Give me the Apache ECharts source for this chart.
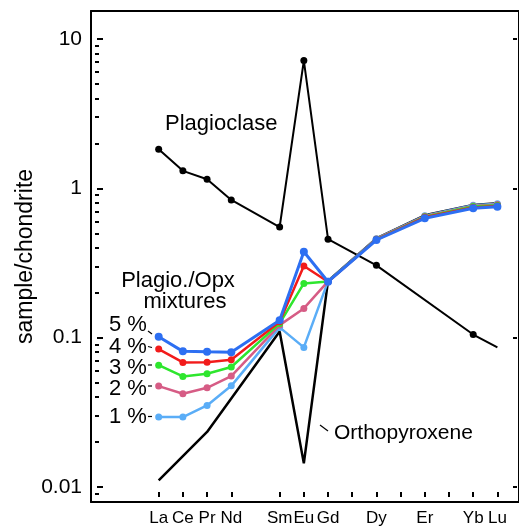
<!DOCTYPE html>
<html>
<head>
<meta charset="utf-8">
<script src="https://cdn.jsdelivr.net/npm/echarts@6/dist/echarts.min.js"></script>
<style>
html, body { margin: 0; padding: 0; background: #fff; }
#chart { width: 519px; height: 528px; }
</style>
</head>
<body>
<div id="chart"></div>
<script>
// REE order (Pm, Tb, Ho, Tm keep their slots but are not labelled)
var elements = ['La', 'Ce', 'Pr', 'Nd', 'Pm', 'Sm', 'Eu', 'Gd', 'Tb', 'Dy', 'Ho', 'Er', 'Tm', 'Yb', 'Lu'];
var labelIdx = [0, 1, 2, 3, 5, 6, 7, 9, 11, 13, 14];
var tickIdx = [0, 1, 2, 3, 5, 6, 7, 8, 9, 10, 11, 12, 13, 14];

// y ticks
var yMajor = [0.01, 0.1, 1, 10];
var yMinor = [0.009, 0.02, 0.03, 0.04, 0.05, 0.06, 0.07, 0.08, 0.09,
              0.2, 0.3, 0.4, 0.5, 0.6, 0.7, 0.8, 0.9,
              2, 3, 4, 5, 6, 7, 8, 9];

// sample/chondrite, null = not analysed
var plagioclase   = [1.83, 1.31, 1.15, 0.836, null, 0.551, 7.17, 0.457, null, 0.305, null, null, null, 0.105, 0.086];
var orthopyroxene = [0.0111, null, 0.0234, null, null, 0.11, 0.0144, 0.24, null, 0.462, null, 0.66, null, 0.775, 0.795];
var mix1 = [0.0294, 0.0294, 0.0352, 0.0476, null, 0.1172, 0.0861, 0.239, null, 0.460, null, 0.655, null, 0.770, 0.790];
var mix2 = [0.0474, 0.0421, 0.0462, 0.0553, null, 0.1214, 0.157, 0.238, null, 0.458, null, 0.650, null, 0.762, 0.780];
var mix3 = [0.0655, 0.0550, 0.0573, 0.0636, null, 0.1247, 0.231, 0.238, null, 0.456, null, 0.645, null, 0.755, 0.770];
var mix4 = [0.0839, 0.0683, 0.0686, 0.0711, null, 0.128, 0.302, 0.237, null, 0.454, null, 0.640, null, 0.745, 0.762];
var mix5 = [0.1014, 0.081, 0.0804, 0.080, null, 0.131, 0.376, 0.237, null, 0.451, null, 0.630, null, 0.735, 0.753];

var mixes = [mix1, mix2, mix3, mix4, mix5];
var mixNames = ['1 %', '2 %', '3 %', '4 %', '5 %'];
var mixColors = ['#5aadf7', '#d65c85', '#2ee62e', '#f21b1b', '#2d6ff2'];

var FONT = '"Liberation Sans", Arial, sans-serif';

function pairs(arr) {
    var out = [];
    for (var i = 0; i < arr.length; i++) {
        if (arr[i] != null) out.push([i, arr[i]]);
    }
    return out;
}

var plagData = pairs(plagioclase);
// last point (Lu) is drawn without a dot
plagData[plagData.length - 1] = { value: plagData[plagData.length - 1], symbol: 'none' };

var series = [
    {
        name: 'Orthopyroxene', type: 'line', data: pairs(orthopyroxene),
        symbol: 'none', lineStyle: { color: '#000', width: 2.5 }, z: 2
    },
    {
        name: 'Plagioclase', type: 'line', data: plagData,
        symbol: 'circle', symbolSize: 7,
        itemStyle: { color: '#000' }, lineStyle: { color: '#000', width: 2 }, z: 2
    }
];
for (var k = 0; k < mixes.length; k++) {
    series.push({
        name: mixNames[k], type: 'line', data: pairs(mixes[k]),
        symbol: 'circle', symbolSize: k == 4 ? 8 : 7,
        itemStyle: { color: mixColors[k] },
        lineStyle: { color: mixColors[k], width: k == 4 ? 3 : 2.5 },
        z: 3 + k
    });
}

var xBase = { type: 'value', min: -2.7975, max: 14.893, splitLine: { show: false } };
var yBase = { type: 'log', min: 0.00794, max: 15.4, splitLine: { show: false } };

// ticks point into the frame: each set sits on its own grid, shifted inwards by the tick length
function tickAxis(base, grid, pos, values, len) {
    return Object.assign({}, base, {
        gridIndex: grid, position: pos,
        axisLine: { show: false, onZero: false },
        axisTick: { show: true, inside: true, length: len, customValues: values, lineStyle: { color: '#000', width: 2 } },
        axisLabel: { show: false }
    });
}
function hiddenAxis(base, grid) {
    return Object.assign({}, base, { gridIndex: grid, show: false });
}

var option = {
    animation: false,
    backgroundColor: '#fff',
    textStyle: { fontFamily: FONT },
    grid: [
        { left: 91, top: 11, right: -2, bottom: 26 },   // plot
        { left: 97, top: 11, right: -2, bottom: 26 },   // left major ticks
        { left: 95, top: 11, right: -2, bottom: 26 },   // left minor ticks
        { left: 91, top: 11, right: 2, bottom: 26 },    // right ticks
        { left: 91, top: 11, right: -2, bottom: 31 }    // bottom ticks
    ],
    xAxis: [
        Object.assign({}, xBase, {
            gridIndex: 0, position: 'bottom',
            axisLine: { onZero: false, lineStyle: { color: '#000', width: 2 } },
            axisTick: { show: false },
            axisLabel: {
                customValues: labelIdx, color: '#000', fontSize: 17, fontFamily: FONT, margin: 8,
                formatter: function (v) { return elements[Math.round(v)]; }
            }
        }),
        Object.assign({}, xBase, {
            gridIndex: 0, position: 'top',
            axisLine: { onZero: false, lineStyle: { color: '#000', width: 2 } },
            axisTick: { show: false }, axisLabel: { show: false }
        }),
        hiddenAxis(xBase, 1),
        hiddenAxis(xBase, 2),
        hiddenAxis(xBase, 3),
        tickAxis(xBase, 4, 'bottom', tickIdx, 5)
    ],
    yAxis: [
        Object.assign({}, yBase, {
            gridIndex: 0, position: 'left',
            name: 'sample/chondrite', nameLocation: 'middle', nameGap: 54, nameMoveOverlap: false,
            nameTextStyle: { color: '#000', fontSize: 23, fontFamily: FONT },
            axisLine: { onZero: false, lineStyle: { color: '#000', width: 2 } },
            axisTick: { show: false },
            axisLabel: {
                customValues: yMajor, color: '#000', fontSize: 21, fontFamily: FONT, margin: 9,
                formatter: function (v) { return String(v); }
            }
        }),
        Object.assign({}, yBase, {
            gridIndex: 0, position: 'right',
            axisLine: { onZero: false, lineStyle: { color: '#000', width: 2 } },
            axisTick: { show: false }, axisLabel: { show: false }
        }),
        tickAxis(yBase, 1, 'left', yMajor, 6),
        tickAxis(yBase, 2, 'left', yMinor, 4),
        tickAxis(yBase, 3, 'right', yMajor, 4),
        hiddenAxis(yBase, 4)
    ],
    graphic: [
        { type: 'text', style: { text: 'Plagioclase', x: 165, y: 124, fontSize: 22, fontFamily: FONT, fill: '#000', align: 'left', verticalAlign: 'middle' } },
        { type: 'text', style: { text: 'Plagio./Opx', x: 178, y: 281, fontSize: 22, fontFamily: FONT, fill: '#000', align: 'center', verticalAlign: 'middle' } },
        { type: 'text', style: { text: 'mixtures', x: 185, y: 302, fontSize: 22, fontFamily: FONT, fill: '#000', align: 'center', verticalAlign: 'middle' } },
        { type: 'text', style: { text: '5 %', x: 109, y: 325, fontSize: 22, fontFamily: FONT, fill: '#000', align: 'left', verticalAlign: 'middle' } },
        { type: 'text', style: { text: '4 %', x: 109, y: 347, fontSize: 22, fontFamily: FONT, fill: '#000', align: 'left', verticalAlign: 'middle' } },
        { type: 'text', style: { text: '3 %', x: 109, y: 368, fontSize: 22, fontFamily: FONT, fill: '#000', align: 'left', verticalAlign: 'middle' } },
        { type: 'text', style: { text: '2 %', x: 109, y: 389, fontSize: 22, fontFamily: FONT, fill: '#000', align: 'left', verticalAlign: 'middle' } },
        { type: 'text', style: { text: '1 %', x: 109, y: 417, fontSize: 22, fontFamily: FONT, fill: '#000', align: 'left', verticalAlign: 'middle' } },
        { type: 'line', shape: { x1: 148, y1: 331, x2: 152, y2: 334 }, style: { stroke: '#000', lineWidth: 1.2 } },
        { type: 'line', shape: { x1: 148, y1: 346.5, x2: 152, y2: 347.5 }, style: { stroke: '#000', lineWidth: 1.2 } },
        { type: 'line', shape: { x1: 148, y1: 365, x2: 152, y2: 365 }, style: { stroke: '#000', lineWidth: 1.2 } },
        { type: 'line', shape: { x1: 148, y1: 386, x2: 152, y2: 386 }, style: { stroke: '#000', lineWidth: 1.2 } },
        { type: 'line', shape: { x1: 148, y1: 416.5, x2: 152, y2: 416.5 }, style: { stroke: '#000', lineWidth: 1.2 } },
        { type: 'text', style: { text: 'Orthopyroxene', x: 334, y: 433, fontSize: 21, fontFamily: FONT, fill: '#000', align: 'left', verticalAlign: 'middle' } },
        { type: 'line', shape: { x1: 320, y1: 425, x2: 328, y2: 431 }, style: { stroke: '#000', lineWidth: 1.2 } }
    ],
    series: series
};

var myChart = echarts.init(document.getElementById('chart'));
myChart.setOption(option);
</script>
</body>
</html>
